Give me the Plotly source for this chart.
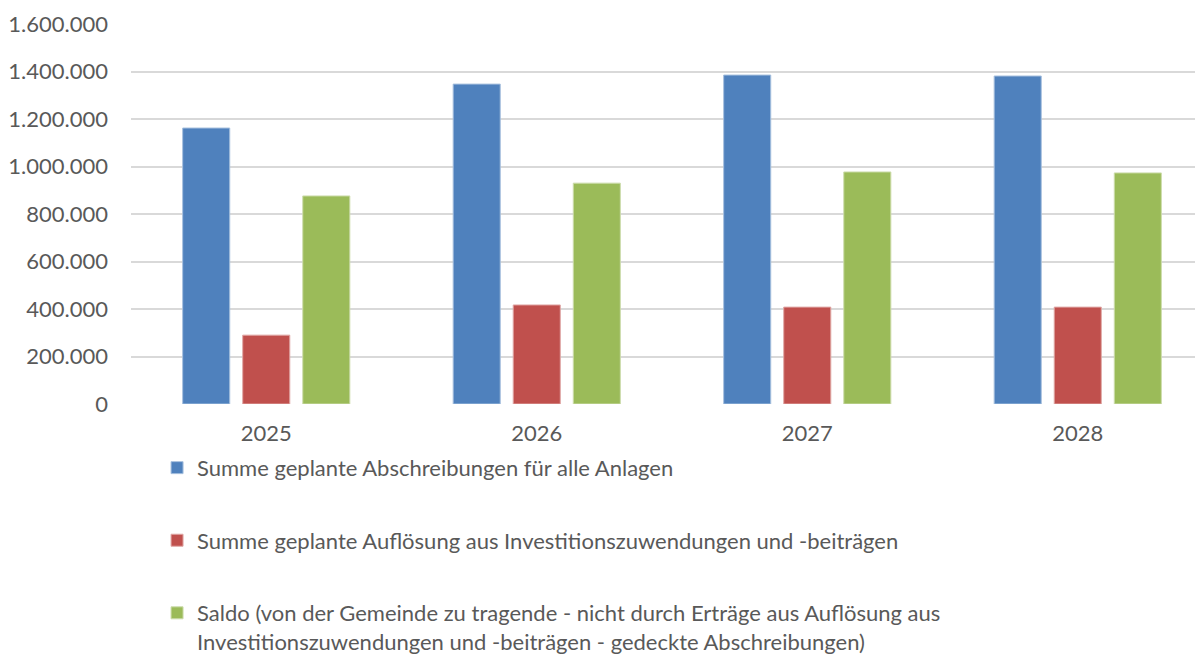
import plotly.graph_objects as go

years = ["2025", "2026", "2027", "2028"]
abschreibungen = [1162000, 1347000, 1385000, 1381000]
aufloesung = [290000, 417000, 408000, 408000]
saldo = [876000, 930000, 977000, 973000]

names = [
    "Summe geplante Abschreibungen für alle Anlagen",
    "Summe geplante Auflösung aus Investitionszuwendungen und -beiträgen",
    "Saldo (von der Gemeinde zu tragende - nicht durch Erträge aus Auflösung aus<br>Investitionszuwendungen und -beiträgen - gedeckte Abschreibungen)",
]
colors = ["#4f81bd", "#c0504d", "#9bbb59"]
edges = ["#a7c0de", "#e0a8a6", "#cddcac"]
series = [abschreibungen, aufloesung, saldo]

fig = go.Figure()
for i, (n, c, e, s) in enumerate(zip(names, colors, edges, series)):
    fig.add_trace(go.Bar(
        x=years, y=s, name=n, legendgroup=f"g{i}",
        marker=dict(color=c, line=dict(color=e, width=1)),
    ))

font_family = "Lato, 'Open Sans', sans-serif"
fig.update_layout(
    width=1195, height=649,
    margin=dict(l=123, r=0, t=16, b=253, autoexpand=False),
    paper_bgcolor="white", plot_bgcolor="white",
    barmode="group", bargap=0.334, bargroupgap=0.216,
    separators=",.",
    font=dict(family=font_family, size=22, color="#595959"),
    showlegend=True,
    legend=dict(
        orientation="v", x=0.0243, xanchor="left", y=-0.1127, yanchor="top",
        font=dict(family=font_family, size=22, color="#595959"),
        tracegroupgap=41, valign="top", itemwidth=30,
        bgcolor="rgba(0,0,0,0)",
    ),
    xaxis=dict(
        type="category", range=[-0.5, 3.463], showgrid=False,
        showline=False, ticks="", ticklabelstandoff=14,
        tickfont=dict(size=22, color="#595959"),
    ),
    yaxis=dict(
        range=[0, 1600000], tickvals=list(range(0, 1600001, 200000)),
        tickformat=",d", showgrid=True, gridcolor="#d9d9d9", gridwidth=1.5,
        zeroline=False, showline=False, ticks="", ticklabelstandoff=22,
        tickfont=dict(size=22, color="#595959"),
    ),
)

fig.write_html("out.html")
